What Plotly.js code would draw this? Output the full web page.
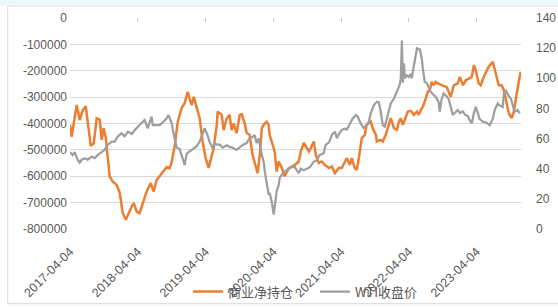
<!DOCTYPE html>
<html><head><meta charset="utf-8">
<script src="https://cdn.plot.ly/plotly-3.0.1.min.js"></script>
<style>html,body{margin:0;padding:0;background:#fff}#c{width:558px;height:307px}</style>
</head><body><div id="c"></div>
<script>
const seriesNames = ['商业净持仓', 'WTI收盘价'];
const tickDates = ['2017-04-04','2018-04-04','2019-04-04','2020-04-04','2021-04-04','2022-04-04','2023-04-04'];
const leftTicks = [0,-100000,-200000,-300000,-400000,-500000,-600000,-700000,-800000];
const leftTickText = ['0','-100000','-200000','-300000','-400000','-500000','-600000','-700000','-800000'];
const rightTicks = [0,20,40,60,80,100,120,140];

const cotDates = ['2017-04-04','2017-04-13','2017-05-10','2017-05-26','2017-06-12','2017-06-28','2017-07-25','2017-08-10','2017-08-26','2017-09-11','2017-09-22','2017-10-02','2017-10-13','2017-10-24','2017-11-04','2017-11-20','2017-12-12','2017-12-28',
'2018-01-13','2018-01-30','2018-02-10','2018-03-03','2018-03-14','2018-03-30','2018-04-14','2018-04-30','2018-05-22','2018-06-13','2018-06-29','2018-07-15','2018-07-31','2018-08-16','2018-09-07','2018-09-23','2018-10-05','2018-10-21','2018-11-06','2018-11-27','2018-12-13','2018-12-29',
'2019-01-20','2019-01-31','2019-02-16','2019-03-04','2019-03-20','2019-04-05','2019-04-21','2019-05-07','2019-05-18','2019-06-04','2019-06-09','2019-07-01','2019-07-11','2019-07-27','2019-08-12','2019-08-23','2019-09-03','2019-09-19','2019-10-06','2019-10-17','2019-11-02','2019-11-12','2019-11-28','2019-12-14','2019-12-25',
'2020-01-10','2020-01-22','2020-02-02','2020-02-12','2020-02-28','2020-03-10','2020-03-15','2020-03-26','2020-04-11','2020-04-22','2020-05-03','2020-05-20','2020-06-04','2020-06-27','2020-07-13','2020-07-29','2020-08-19','2020-08-30','2020-09-15','2020-09-27','2020-10-13','2020-10-23','2020-11-08','2020-11-19','2020-12-05','2020-12-21',
'2021-01-06','2021-01-29','2021-02-14','2021-03-02','2021-03-23','2021-04-08','2021-04-24','2021-05-05','2021-05-22','2021-06-01','2021-06-17','2021-06-28','2021-07-09','2021-07-19','2021-07-25','2021-08-10','2021-08-20','2021-09-11','2021-09-22','2021-10-09','2021-10-14','2021-11-04','2021-11-15','2021-12-01','2021-12-17','2021-12-28',
'2022-01-14','2022-01-30','2022-02-10','2022-02-20','2022-03-03','2022-03-19','2022-03-30','2022-04-15','2022-05-01','2022-05-18','2022-05-28','2022-06-08','2022-06-19','2022-07-05','2022-07-15','2022-07-26','2022-08-06','2022-08-17','2022-08-27','2022-09-12','2022-10-05','2022-10-26','2022-11-16','2022-12-03','2022-12-24',
'2023-01-04','2023-01-21','2023-02-06','2023-02-22','2023-03-10','2023-03-21','2023-03-31','2023-04-16','2023-04-27','2023-05-14','2023-05-30','2023-06-09','2023-07-01','2023-07-06','2023-07-22','2023-08-02','2023-08-18','2023-08-29','2023-09-14','2023-09-25','2023-10-11','2023-10-22','2023-11-07','2023-11-18','2023-11-28'];
const cotValues = [-405000,-450000,-330000,-387000,-349000,-335000,-485000,-475000,-380000,-385000,-462000,-418000,-450000,-520000,-601000,-620000,-633000,-663000,
-739000,-765000,-745000,-714000,-702000,-735000,-740000,-702000,-658000,-626000,-658000,-614000,-600000,-583000,-565000,-570000,-544000,-481000,-393000,-341000,-323000,-280000,
-330000,-299000,-341000,-380000,-469000,-531000,-568000,-519000,-496000,-406000,-355000,-367000,-425000,-382000,-367000,-425000,-400000,-437000,-367000,-365000,-400000,-435000,-443000,-519000,-544000,
-588000,-519000,-418000,-405000,-393000,-405000,-443000,-468000,-506000,-582000,-544000,-569000,-600000,-569000,-563000,-557000,-544000,-506000,-474000,-487000,-506000,-493000,-468000,-519000,-550000,-544000,
-557000,-569000,-563000,-588000,-569000,-569000,-544000,-531000,-557000,-531000,-569000,-576000,-531000,-481000,-455000,-443000,-405000,-393000,-418000,-443000,-468000,-462000,-468000,-443000,-405000,-380000,
-418000,-424000,-393000,-380000,-405000,-374000,-355000,-352000,-367000,-355000,-367000,-349000,-336000,-305000,-280000,-274000,-242000,-255000,-242000,-250000,-255000,-262000,-299000,-255000,-248000,
-223000,-255000,-236000,-230000,-223000,-179000,-198000,-248000,-255000,-223000,-198000,-185000,-166000,-179000,-223000,-255000,-255000,-273000,-323000,-361000,-380000,-355000,-286000,-242000,-204000];

const wtiDates = ['2017-04-04','2017-04-18','2017-04-29','2017-05-15','2017-05-26','2017-06-06','2017-06-22','2017-07-08','2017-07-30','2017-08-15','2017-08-31','2017-09-22','2017-10-07','2017-10-24','2017-11-15','2017-12-01','2017-12-17',
'2018-01-07','2018-01-23','2018-02-10','2018-03-03','2018-03-19','2018-04-04','2018-04-25','2018-05-11','2018-05-22','2018-05-27','2018-06-08','2018-06-18','2018-06-24','2018-07-15','2018-07-31','2018-08-16','2018-09-07','2018-09-17','2018-10-05','2018-10-10','2018-10-21','2018-10-31','2018-11-16','2018-12-02','2018-12-13','2018-12-24',
'2019-01-09','2019-01-26','2019-02-16','2019-03-04','2019-03-20','2019-03-31','2019-04-16','2019-04-26','2019-05-12','2019-05-23','2019-06-04','2019-06-20','2019-07-06','2019-07-27','2019-08-12','2019-08-28','2019-09-19','2019-10-06','2019-10-22','2019-11-12','2019-11-28','2019-12-14','2019-12-25',
'2020-01-05','2020-01-16','2020-02-02','2020-02-12','2020-02-18','2020-02-28','2020-03-10','2020-03-15','2020-03-26','2020-04-06','2020-04-11','2020-04-22','2020-05-03','2020-05-08','2020-05-25','2020-06-04','2020-06-27','2020-07-13','2020-07-29','2020-08-19','2020-08-30','2020-09-15','2020-10-01','2020-10-18','2020-11-08','2020-11-24','2020-12-10',
'2021-01-01','2021-01-11','2021-01-29','2021-02-14','2021-03-02','2021-03-13','2021-03-23','2021-04-08','2021-04-24','2021-05-05','2021-05-27','2021-06-06','2021-06-23','2021-07-03','2021-07-19','2021-08-04','2021-08-20','2021-08-31','2021-09-11','2021-09-28','2021-10-14','2021-10-25','2021-11-04','2021-11-15','2021-11-26','2021-12-06','2021-12-17','2021-12-28',
'2022-01-14','2022-01-30','2022-02-10','2022-02-15','2022-02-20','2022-02-26','2022-03-03','2022-03-09','2022-03-14','2022-03-24','2022-04-04','2022-04-15','2022-04-20','2022-05-01','2022-05-11','2022-05-18','2022-06-03','2022-06-13','2022-06-19','2022-06-29','2022-07-10','2022-07-21','2022-07-31','2022-08-17','2022-08-27','2022-09-12','2022-09-18','2022-09-28','2022-10-09','2022-10-26','2022-11-06','2022-11-16','2022-11-27','2022-12-08','2022-12-24',
'2023-01-04','2023-01-21','2023-01-31','2023-02-16','2023-02-26','2023-03-10','2023-03-21','2023-03-31','2023-04-11','2023-04-21','2023-05-08','2023-05-19','2023-06-04','2023-06-15','2023-07-01','2023-07-11','2023-07-28','2023-08-07','2023-08-23','2023-08-29','2023-09-08','2023-09-25','2023-10-06','2023-10-17','2023-10-27','2023-11-12','2023-11-23'];
const wtiValues = [51,49,51,46,44,46,47,46,48,47,49,51,52.5,55.8,58,58,61.3,
63.5,61.5,64.6,63,65.7,67.9,70.1,72.3,69,66.8,71,74.5,69,69,69,70.5,73.4,75.6,70,66,59,54,53,47,42.5,50,
51.4,53,55,58,63.5,66.8,62,58,53.6,57,56,56,54,55.5,54.5,54,52.5,54,55.8,57,60.2,61,62.4,
57,60,49.2,44.7,38.1,29.3,22.7,24,18.3,9.5,13.9,24.9,29.3,33.7,37,38.1,40.3,41,41,37,40,39,40,41,44.7,45.5,49.2,
50.3,55.8,57.5,62.4,64.6,60.2,63,65.7,66.5,66,71.2,73.4,75.6,74.5,70.1,67,69,71,76.7,82.2,84.4,84,77.8,69,68,73,77.8,83.3,
86.6,91,94.3,96,100,125,97,110,100,102,101,103,100,108.7,115.3,119.8,119,113,106.5,97.7,97,94.3,91,88.9,87.7,84.4,77.8,86,89.9,88,86,81.1,75.6,77,79,
77,78,76,75,72.3,70.1,77,81,77,73,71.2,71,70,69,73,79,83.3,82,81,88.9,92.2,88,86.6,82,77.8,79,76.7];

const txt = '#595959';
const fam = 'Liberation Sans, Arial, Noto Sans CJK SC, sans-serif';
const traces = [
  {type:'scatter', mode:'lines', name:seriesNames[0], x:cotDates, y:cotValues, xaxis:'x', yaxis:'y',
   line:{color:'#ED7D31', width:2.5}},
  {type:'scatter', mode:'lines', name:seriesNames[1], x:wtiDates, y:wtiValues, xaxis:'x2', yaxis:'y2',
   line:{color:'#9E9E9E', width:2.25}}
];
const layout = {
  width:558, height:307,
  margin:{l:70, r:37, t:18, b:78},
  paper_bgcolor:'#fff', plot_bgcolor:'#fff',
  font:{family:fam, color:txt, size:12},
  showlegend:true,
  legend:{orientation:'h', xref:'container', yref:'container', x:0.337, xanchor:'left', y:0.05, yanchor:'middle',
    bgcolor:'rgba(0,0,0,0)', font:{family:'Noto Sans CJK SC, sans-serif', size:13, color:txt},
    entrywidth:82, entrywidthmode:'pixels'},
  xaxis:{type:'date', range:['2017-04-04','2023-11-30'], tickvals:tickDates, ticktext:tickDates,
    tickangle:-45, tickfont:{size:12.5, color:txt}, ticklabelstandoff:12, showgrid:false, zeroline:false, showline:false, ticks:''},
  xaxis2:{type:'date', matches:'x', overlaying:'x', side:'top', anchor:'y', tickvals:tickDates,
    showticklabels:false, ticks:'inside', ticklen:4, tickcolor:'#cccccc', showgrid:false, zeroline:false, showline:false},
  yaxis:{range:[-800000,0], tickvals:leftTicks, ticktext:leftTickText, gridcolor:'#d9d9d9', gridwidth:1,
    zeroline:false, showline:false, ticks:'', ticklabelstandoff:2, tickfont:{size:12, color:txt}},
  yaxis2:{range:[0,140], tickvals:rightTicks, overlaying:'y', side:'right', anchor:'x2', showgrid:false,
    zeroline:false, showline:false, ticks:'', ticklabelstandoff:14, tickfont:{size:12, color:txt}},
  shapes:[
    {type:'rect', xref:'paper', yref:'paper', x0:-0.138, x1:1.12, y0:-0.354, y1:1.057,
     line:{color:'#d9d9d9', width:1}, fillcolor:'rgba(0,0,0,0)', layer:'below'},
    {type:'rect', xref:'paper', yref:'paper', x0:-0.2, x1:1.2, y0:1.06, y1:1.2,
     line:{width:0}, fillcolor:'#eef7fc', layer:'below'}
  ]
};
Plotly.newPlot('c', traces, layout, {displayModeBar:false, staticPlot:true});
</script></body></html>
